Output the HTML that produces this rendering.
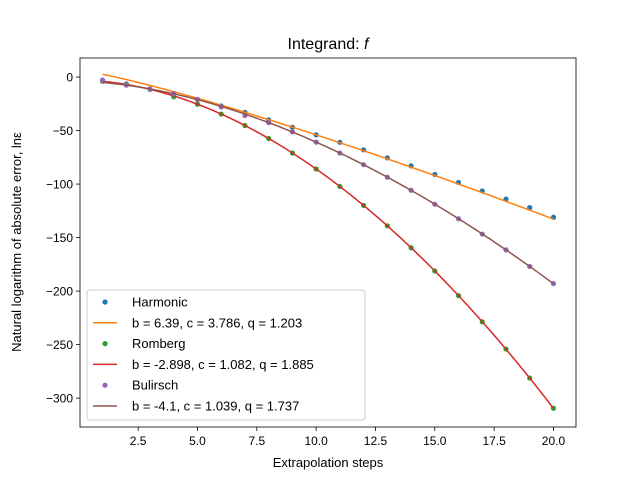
<!DOCTYPE html>
<html><head><meta charset="utf-8"><style>
body{margin:0;background:#fff;}
svg{font-family:"Liberation Sans","DejaVu Sans",sans-serif;}
</style></head><body>
<svg id="chart" width="640" height="480">
<rect width="640" height="480" fill="#fff"/>
<text x="328" y="49" text-anchor="middle" font-size="16">Integrand: <tspan font-style="italic">f</tspan></text>
<text transform="translate(21,242) rotate(-90)" text-anchor="middle" font-size="13">Natural logarithm of absolute error, lnε</text>
<text x="328" y="467" text-anchor="middle" font-size="13">Extrapolation steps</text>
<g id="plot"></g>
</svg>
<script>
const steps=[1,2,3,4,5,6,7,8,9,10,11,12,13,14,15,16,17,18,19,20];
const harmonic=[-3,-6.5,-11,-16,-21,-27,-33,-40,-47,-54,-61,-68,-75.5,-83,-91,-98.5,-106.5,-114,-122,-131];
const romberg=[-4,-6.9,-11.5,-18.5,-25.4,-34.6,-45.3,-57.4,-71,-85.9,-102.2,-120,-139,-159.5,-181.2,-204.3,-228.7,-254.2,-281.3,-309.5];
const bulirsch=[-3,-7.6,-11.1,-15.6,-21.1,-28,-36,-42.6,-51.3,-60.8,-71,-81.9,-93.6,-105.8,-118.8,-132.4,-146.7,-161.5,-177,-193];
const fitHarmonic=[6.39,3.786,1.203];
const fitRomberg=[-2.898,1.082,1.885];
const fitBulirsch=[-4.1,1.039,1.737];
const xTicks=[2.5,5.0,7.5,10.0,12.5,15.0,17.5,20.0];
const yTicks=[0,-50,-100,-150,-200,-250,-300];
const legendLabels=["Harmonic","b = 6.39, c = 3.786, q = 1.203","Romberg","b = -2.898, c = 1.082, q = 1.885","Bulirsch","b = -4.1, c = 1.039, q = 1.737"];

const L=80,R=576,T=58,B=427;
const xmin=0.05,xmax=20.95,ymin=-327,ymax=17.8;
const X=v=>L+(v-xmin)/(xmax-xmin)*(R-L);
const Y=v=>B-(v-ymin)/(ymax-ymin)*(B-T);
const NS="http://www.w3.org/2000/svg";
const g=document.getElementById('plot');
function mk(tag,attrs,parent){const e=document.createElementNS(NS,tag);for(const k in attrs)e.setAttribute(k,attrs[k]);(parent||g).appendChild(e);return e;}

xTicks.forEach(t=>{
  const l=mk('line',{x1:X(t),x2:X(t),y1:B,y2:B+4,stroke:'#000','stroke-width':0.8});
  
  
  const tx=mk('text',{x:X(t),y:B+18,'text-anchor':'middle','font-size':12});
  tx.textContent=t.toFixed(1);
  
  
});
yTicks.forEach(t=>{
  const l=mk('line',{x1:L-4,x2:L,y1:Y(t),y2:Y(t),stroke:'#000','stroke-width':0.8});
  
  
  const tx=mk('text',{x:L-7,y:Y(t)+4.5,'text-anchor':'end','font-size':12});
  tx.textContent=String(t).replace('-','−');
  
  
});

function fitLine(p,color,name){
  let d='';
  for(let i=0;i<=200;i++){const n=1+19*i/200;const v=p[0]-p[1]*Math.pow(n,p[2]);d+=(i?'L':'M')+X(n).toFixed(2)+','+Y(v).toFixed(2);}
  const e=mk('path',{d:d,fill:'none',stroke:color,'stroke-width':1.5});
  
  
}
function pts(arr,color,name){
  arr.forEach((v,i)=>{
    const c=mk('circle',{cx:X(steps[i]),cy:Y(v),r:2.6,fill:color});
    
    
  });
}
pts(harmonic,'#1f77b4','harmonic-point');
fitLine(fitHarmonic,'#ff7f0e','harmonic-fit-line');
pts(romberg,'#2ca02c','romberg-point');
fitLine(fitRomberg,'#d62728','romberg-fit-line');
pts(bulirsch,'#9467bd','bulirsch-point');
fitLine(fitBulirsch,'#8c564b','bulirsch-fit-line');

const frame=mk('rect',{x:L,y:T,width:R-L,height:B-T,fill:'none',stroke:'#000','stroke-width':0.8});



const lg=mk('g',{});


mk('rect',{x:87,y:290,width:278,height:130,rx:3,fill:'#fff','fill-opacity':0.8,stroke:'#ccc'},lg);
const colors=['#1f77b4','#ff7f0e','#2ca02c','#d62728','#9467bd','#8c564b'];
legendLabels.forEach((s,i)=>{
  const y=302+i*20.8;
  if(i%2===0){mk('circle',{cx:105,cy:y,r:2.6,fill:colors[i]},lg);}
  else{mk('line',{x1:93,x2:117,y1:y,y2:y,stroke:colors[i],'stroke-width':1.5},lg);}
  const t=mk('text',{x:132,y:y+4.5,'font-size':13},lg);
  t.textContent=s;
  
  
});
</script>
</body></html>
